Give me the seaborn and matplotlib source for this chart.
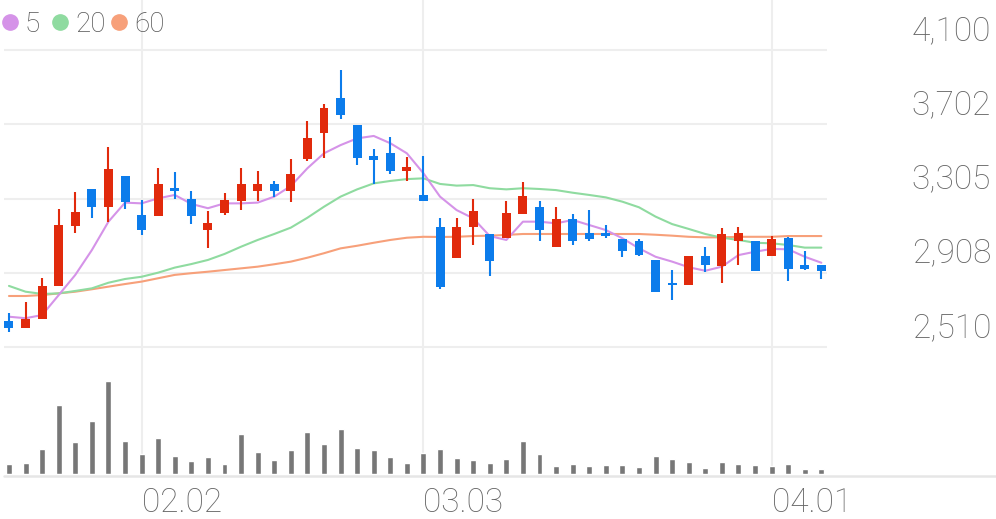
import matplotlib
matplotlib.use("Agg")
import matplotlib.pyplot as plt
import matplotlib.transforms as mtransforms
from matplotlib.lines import Line2D
import numpy as np
import pandas as pd
import seaborn as sns

# daily candles, 2026-01-21 .. 2026-04-06 (50 trading days)
opens = [2650, 2610, 2660, 2835, 3160, 3355, 3260, 3425, 3215, 3210,
         3360, 3305, 3135, 3225, 3290, 3345, 3385, 3345, 3515, 3655,
         3845, 3700, 3530, 3550, 3450, 3325, 3155, 2985, 3150, 3115,
         3095, 3220, 3260, 3045, 3195, 3120, 3120, 3090, 3075, 2975,
         2845, 2840, 2995, 2945, 3080, 3075, 2995, 3095, 2950, 2950]
highs = [2690, 2750, 2880, 3250, 3340, 3355, 3580, 3425, 3295, 3470,
         3445, 3345, 3240, 3335, 3470, 3450, 3400, 3515, 3720, 3810,
         3995, 3700, 3570, 3635, 3525, 3530, 3200, 3200, 3305, 3115,
         3290, 3395, 3290, 3260, 3220, 3245, 3165, 3090, 3090, 2975,
         2920, 2995, 3045, 3145, 3150, 3075, 3105, 3100, 3025, 2950]
lows = [2590, 2610, 2660, 2835, 3120, 3200, 3180, 3250, 3110, 3210,
        3300, 3170, 3040, 3215, 3245, 3290, 3315, 3285, 3505, 3520,
        3730, 3485, 3385, 3435, 3400, 3290, 2820, 2985, 3055, 2890,
        3095, 3220, 3075, 3045, 3055, 3080, 3095, 2990, 2995, 2805,
        2760, 2840, 2910, 2855, 2950, 2915, 2995, 2865, 2920, 2875]
closes = [2610, 2660, 2835, 3165, 3235, 3260, 3465, 3285, 3135, 3385,
          3345, 3210, 3175, 3295, 3385, 3385, 3345, 3435, 3630, 3790,
          3750, 3520, 3510, 3450, 3475, 3290, 2830, 3155, 3240, 2970,
          3230, 3320, 3135, 3195, 3080, 3090, 3105, 3025, 3000, 2805,
          2840, 2995, 2950, 3115, 3120, 2915, 3090, 2925, 2925, 2915]

ma5 = [2672, 2664, 2681, 2788, 2896, 3029, 3181, 3283, 3279, 3306,
       3324, 3276, 3253, 3279, 3279, 3283, 3315, 3372, 3467, 3547,
       3591, 3627, 3640, 3601, 3547, 3440, 3315, 3243, 3199, 3104,
       3083, 3181, 3181, 3172, 3190, 3163, 3136, 3092, 3038, 2993,
       2967, 2937, 2918, 2940, 3002, 3020, 3035, 3033, 2993, 2961]
ma20 = [2837, 2806, 2794, 2797, 2810, 2824, 2854, 2874, 2886, 2908,
        2935, 2954, 2976, 3008, 3047, 3083, 3115, 3149, 3202, 3261,
        3315, 3354, 3386, 3399, 3409, 3413, 3383, 3374, 3377, 3360,
        3354, 3360, 3356, 3350, 3336, 3324, 3311, 3288, 3258, 3208,
        3168, 3142, 3115, 3095, 3083, 3068, 3065, 3056, 3042, 3042]
ma60 = [2783, 2783, 2788, 2797, 2806, 2819, 2833, 2847, 2860, 2878,
        2896, 2905, 2913, 2922, 2931, 2940, 2953, 2967, 2988, 3012,
        3038, 3052, 3068, 3083, 3095, 3100, 3099, 3100, 3104, 3106,
        3110, 3115, 3115, 3115, 3115, 3115, 3115, 3115, 3115, 3111,
        3106, 3100, 3097, 3097, 3100, 3100, 3100, 3104, 3104, 3104]

volume = [100000, 107000, 247000, 693000, 317000, 533000, 930000, 327000, 200000, 357000,
          183000, 127000, 170000, 100000, 403000, 217000, 137000, 243000, 423000, 300000,
          450000, 263000, 243000, 170000, 110000, 210000, 253000, 160000, 140000, 110000,
          153000, 330000, 200000, 80000, 103000, 80000, 93000, 93000, 67000, 183000,
          147000, 123000, 57000, 120000, 103000, 87000, 77000, 97000, 47000, 47000]

tick_pos = [8, 25, 46]
tick_labels = ["02.02", "03.03", "04.01"]
price_ticks = [2510, 2908, 3305, 3702, 4100]
price_labels = ["2,510", "2,908", "3,305", "3,702", "4,100"]

RED = "#e12a0c"
BLUE = "#0c7ceb"
MA_COLORS = {"5": "#d593e8", "20": "#8fdba0", "60": "#f7a07a"}
GRID = "#eeeeee"
TXT = "#666666"

sns.set_style("white")
plt.rcParams["font.family"] = ["Roboto", "DejaVu Sans"]
plt.rcParams["font.weight"] = "light"

W, H = 996, 519
fig = plt.figure(figsize=(W / 100, H / 100), dpi=100)

# pixel layout of the two panels
left, right = 4, 827
ax = fig.add_axes([left / W, 1 - 355 / H, (right - left) / W, 355 / H])
axv = fig.add_axes([left / W, 1 - 474 / H, (right - left) / W, (474 - 355) / H], sharex=ax)

df = pd.DataFrame({"open": opens, "high": highs, "low": lows, "close": closes,
                   "ma5": ma5, "ma20": ma20, "ma60": ma60, "volume": volume})
df["i"] = np.arange(len(df))
up = df["close"] >= df["open"]
colors = np.where(up, RED, BLUE)

# moving averages
for key, col in [("60", "ma60"), ("20", "ma20"), ("5", "ma5")]:
    sns.lineplot(data=df, x="i", y=col, ax=ax, color=MA_COLORS[key], lw=1.5, zorder=2)

# candles
ax.vlines(df["i"], df["low"], df["high"], colors=colors, lw=1.5, zorder=3)
body_lo = np.minimum(df["open"], df["close"])
body_h = np.maximum((df["close"] - df["open"]).abs(), 12)
ax.bar(df["i"], body_h, bottom=body_lo, width=0.54, color=colors, lw=0, zorder=4)

# volume
sns.barplot(data=df, x="i", y="volume", ax=axv, native_scale=True, width=0.36,
            color="#777777", saturation=1, zorder=3)

ax.set_xlim(-0.30, 49.34)
ax.set_ylim(2467, 4368)
axv.set_ylim(0, 1190000)

for a in (ax, axv):
    for s in a.spines.values():
        s.set_visible(False)
    a.set_xlabel("")
    a.set_ylabel("")
    a.tick_params(length=0)
    a.set_xticks(tick_pos)
    a.grid(axis="x", color=GRID, lw=1.5)
    a.set_axisbelow(True)

ax.set_yticks(price_ticks)
ax.grid(axis="y", color=GRID, lw=1.5)
ax.tick_params(labelleft=False, labelbottom=False)
axv.set_yticks([])
axv.set_xticklabels(tick_labels, fontsize=24, color=TXT, ha="left")
axv.tick_params(axis="x", pad=9)

# price labels sit above their gridlines on the right
trans = mtransforms.blended_transform_factory(ax.transAxes, ax.transData) + \
    mtransforms.ScaledTranslation(164 / 100, 10 / 100, fig.dpi_scale_trans)
for v, lab in zip(price_ticks, price_labels):
    ax.text(1.0, v, lab, transform=trans, ha="right", va="baseline",
            fontsize=24, color=TXT)

# bottom baseline across the full width
fig.add_artist(Line2D([left / W, 1], [1 - 475.5 / H] * 2, color="#e6e6e6", lw=1.8))

# legend
for lab, xc in [("5", 10), ("20", 60), ("60", 119)]:
    fig.add_artist(Line2D([xc / W], [1 - 22 / H], marker="o", ms=11, lw=0,
                          color=MA_COLORS[lab], transform=fig.transFigure))
    fig.text((xc + 15) / W, 1 - 22 / H, lab, ha="left", va="center_baseline",
             fontsize=20, color="#555555")

fig.savefig("out.png", dpi=100)
